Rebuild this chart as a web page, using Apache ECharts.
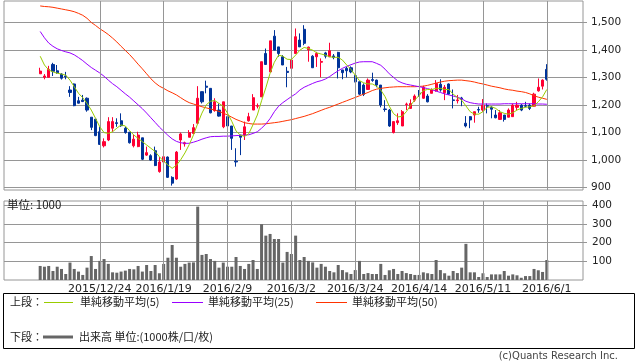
<!DOCTYPE html>
<html><head><meta charset="utf-8">
<script src="https://cdn.jsdelivr.net/npm/echarts@6/dist/echarts.min.js"></script>
<style>html,body{margin:0;padding:0;background:#fff}#c{width:638px;height:362px}</style>
</head><body><div id="c"></div>
<script>
const dates = ['2015/12/3','2015/12/4','2015/12/7','2015/12/8','2015/12/9','2015/12/10','2015/12/11','2015/12/14','2015/12/15','2015/12/16','2015/12/17','2015/12/18','2015/12/21','2015/12/22','2015/12/24','2015/12/25','2015/12/28','2015/12/29','2015/12/30',
'2016/1/4','2016/1/5','2016/1/6','2016/1/7','2016/1/8','2016/1/12','2016/1/13','2016/1/14','2016/1/15','2016/1/18','2016/1/19','2016/1/20','2016/1/21','2016/1/22','2016/1/25','2016/1/26','2016/1/27','2016/1/28','2016/1/29',
'2016/2/1','2016/2/2','2016/2/3','2016/2/4','2016/2/5','2016/2/8','2016/2/9','2016/2/10','2016/2/12','2016/2/15','2016/2/16','2016/2/17','2016/2/18','2016/2/19','2016/2/22','2016/2/23','2016/2/24','2016/2/25','2016/2/26','2016/2/29',
'2016/3/1','2016/3/2','2016/3/3','2016/3/4','2016/3/7','2016/3/8','2016/3/9','2016/3/10','2016/3/11','2016/3/14','2016/3/15','2016/3/16','2016/3/17','2016/3/18','2016/3/22','2016/3/23','2016/3/24','2016/3/25','2016/3/28','2016/3/29','2016/3/30','2016/3/31',
'2016/4/1','2016/4/4','2016/4/5','2016/4/6','2016/4/7','2016/4/8','2016/4/11','2016/4/12','2016/4/13','2016/4/14','2016/4/15','2016/4/18','2016/4/19','2016/4/20','2016/4/21','2016/4/22','2016/4/25','2016/4/26','2016/4/27','2016/4/28',
'2016/5/2','2016/5/6','2016/5/9','2016/5/10','2016/5/11','2016/5/12','2016/5/13','2016/5/16','2016/5/17','2016/5/18','2016/5/19','2016/5/20','2016/5/23','2016/5/24','2016/5/25','2016/5/26','2016/5/27','2016/5/30','2016/5/31','2016/6/1'];

const open = [1313,1300,1300,1347,1324,1312,1305,1254,1276,1215, 1217,1224,1155,1148,1102,1051,1072,1115,1135,1142,
1115,1100,1051,1048,1080,1017,1015,1033,957,992, 1010,936,930,1072,1058,1082,1096,1133,1248,1268,
1260,1179,1181,1120,1157,1123,995,1090,1090,1142, 1181,1195,1229,1387,1320,1450,1411,1375,1322,1333,
1387,1436,1475,1400,1377,1375,1355,1389,1375,1378, 1391,1327,1333,1335,1306,1284,1272,1256,1292,1290,
1272,1185,1181,1099,1135,1123,1201,1187,1217,1243, 1224,1232,1242,1251,1275,1244,1276,1218,1215,1225,
1133,1157,1163,1183,1181,1197,1191,1163,1147,1163, 1155,1157,1191,1199,1197,1199,1195,1251,1268,1329];
const close = [1323,1305,1329,1322,1317,1297,1302,1245,1197,1206, 1212,1181,1118,1088,1056,1066,1139,1139,1132,1124,
1099,1062,1075,1090,1002,1026,999,979,992,1011, 936,915,1028,1094,1062,1099,1117,1224,1211,1264,
1171,1211,1159,1211,1123,1078,992,1082,1120,1157, 1226,1197,1357,1347,1433,1399,1387,1345,1318,1363,
1448,1411,1424,1410,1335,1387,1358,1377,1397,1372, 1335,1317,1324,1320,1284,1239,1238,1290,1289,1272,
1199,1183,1123,1139,1142,1175,1203,1205,1232,1240, 1264,1211,1254,1278,1254,1264,1239,1216,1218,1222,
1123,1145,1175,1181,1199,1195,1184,1153,1171,1147, 1181,1199,1199,1181,1195,1187,1239,1264,1290,1293];
const low = [1313,1293,1300,1305,1313,1292,1293,1229,1195,1205, 1210,1175,1108,1086,1054,1045,1068,1102,1120,1120,
1095,1059,1045,1046,999,1014,996,977,953,969, 934,906,927,1036,1048,1082,1096,1130,1205,1242,
1169,1175,1157,1115,1120,1036,975,1017,1072,1139, 1181,1187,1229,1345,1320,1399,1375,1345,1264,1333,
1387,1411,1417,1357,1335,1338,1300,1369,1375,1366, 1296,1293,1300,1315,1282,1236,1232,1254,1284,1264,
1191,1175,1120,1096,1127,1123,1181,1187,1211,1229, 1222,1209,1242,1248,1248,1217,1236,1187,1205,1195,
1118,1115,1135,1171,1175,1169,1151,1151,1145,1139, 1155,1157,1181,1177,1191,1181,1193,1248,1256,1288];
const high = [1335,1312,1342,1353,1345,1315,1320,1268,1278,1229, 1236,1227,1155,1148,1120,1078,1155,1155,1151,1169,
1120,1102,1090,1102,1080,1048,1020,1048,1010,1026, 1012,940,1032,1099,1066,1108,1130,1268,1248,1288,
1260,1224,1205,1211,1163,1123,1042,1090,1139,1171, 1239,1205,1357,1405,1433,1472,1411,1381,1338,1424,
1478,1460,1490,1412,1381,1393,1369,1393,1426,1385, 1393,1327,1338,1340,1308,1284,1278,1296,1317,1292,
1272,1217,1185,1139,1169,1181,1208,1220,1238,1254, 1270,1239,1260,1290,1293,1272,1278,1256,1236,1229,
1159,1159,1175,1193,1221,1205,1195,1181,1181,1163, 1187,1205,1211,1203,1211,1205,1244,1296,1293,1348];
const volume = [75,71,75,48,71,59,32,93,59,45, 27,66,128,59,102,112,86,41,39,45,
50,59,57,75,45,80,48,80,36,86, 119,187,119,71,86,93,94,392,134,139,
112,102,66,93,71,71,123,75,59,86, 107,59,298,237,246,219,219,93,150,139,
237,107,123,102,94,66,86,71,48,41, 80,53,41,32,53,102,32,37,32,32,
86,27,52,59,32,48,37,32,27,27, 41,36,32,107,53,36,23,48,37,66,
193,41,41,16,36,16,30,30,30,48, 23,30,25,12,21,21,59,52,43,107];
const ma5 = [1377,1345,1327,1320,1315,1312,1308,1290,1266,1242, 1226,1205,1181,1151,1120,1099,1096,1102,1115,1127,
1123,1106,1090,1078,1066,1054,1042,1030,1011,995, 981,969,980,1000,1025,1055,1090,1132,1170,1200,
1213,1216,1205,1195,1170,1140,1105,1090,1085,1095, 1128,1163,1215,1262,1315,1355,1381,1377,1366,1365,
1381,1399,1409,1405,1399,1389,1385,1381,1375,1373, 1373,1363,1345,1329,1308,1288,1280,1276,1276,1268,
1254,1230,1195,1168,1156,1158,1175,1198,1218,1234, 1252,1256,1256,1260,1260,1256,1256,1239,1227,1217,
1196,1175,1166,1166,1175,1191,1193,1187,1175,1169, 1166,1171,1181,1187,1191,1193,1196,1211,1229,1256];
const ma25 = [1467,1444,1425,1413,1404,1398,1393,1389,1382,1372, 1361,1348,1336,1326,1316,1304,1290,1277,1266,1253,
1240,1228,1214,1200,1186,1170,1153,1136,1119,1104, 1089,1076,1067,1062,1060,1060,1064,1069,1075,1080,
1084,1085,1085,1086,1086,1087,1088,1089,1090,1091, 1096,1102,1115,1130,1150,1175,1195,1208,1219,1230,
1240,1254,1264,1271,1278,1284,1288,1294,1303,1314, 1324,1333,1340,1346,1352,1356,1357,1357,1357,1351,
1344,1330,1313,1300,1287,1280,1275,1272,1269,1266, 1263,1259,1255,1250,1245,1240,1236,1232,1228,1222,
1213,1208,1205,1203,1203,1203,1203,1203,1203,1204, 1204,1204,1204,1204,1204,1204,1204,1203,1203,1202];
const ma50 = [1560,1558,1557,1555,1552,1549,1546,1543,1539,1533, 1526,1515,1500,1489,1477,1467,1456,1443,1429,1413,
1398,1383,1366,1348,1331,1313,1295,1280,1268,1260, 1251,1244,1236,1226,1216,1208,1203,1198,1193,1189,
1185,1181,1176,1170,1163,1155,1147,1141,1135,1132, 1130,1130,1130,1131,1133,1135,1137,1140,1143,1146,
1150,1154,1158,1163,1168,1174,1180,1186,1191,1197, 1203,1209,1215,1221,1227,1233,1239,1245,1252,1257,
1260,1262,1264,1265,1266,1266,1266,1266,1266,1267, 1268,1271,1275,1279,1283,1286,1288,1289,1290,1290,
1288,1286,1283,1279,1276,1272,1268,1265,1262,1258, 1255,1253,1250,1248,1245,1240,1233,1228,1224,1220];
const tickLabels = ['2015/12/24','2016/1/19','2016/2/9','2016/3/2','2016/3/24','2016/4/14','2016/5/11','2016/6/1'];
const priceTicks = [900,1000,1100,1200,1300,1400,1500];
const volumeTicks = [100,200,300,400];

const PAD = 8;
const cats = [];
for (let k = 0; k < PAD; k++) cats.push('L' + k);
dates.forEach(d => cats.push(d));
for (let k = 0; k < PAD; k++) cats.push('R' + k);
const padArr = Array(PAD).fill('-');
const padCandle = Array(PAD).fill(['-','-','-','-']);
const candleData = padCandle.concat(dates.map((d, i) => [open[i], close[i], low[i], high[i]])).concat(padCandle);
const withPad = a => padArr.concat(a).concat(padArr);

const GRID = '#969696';
const font = 'DejaVu Sans';
const cjk = '"Noto Sans CJK JP"';
const vLines = tickLabels.map(t => ({xAxis: t}));

const chart = echarts.init(document.getElementById('c'), null, {renderer: 'canvas'});
const xBase = {
  type: 'category', data: cats, boundaryGap: true,
  axisLine: {show: false}, axisTick: {show: false}, splitLine: {show: false}
};
chart.setOption({
  animation: false,
  backgroundColor: '#fff',
  grid: [
    {left: 4, right: 55, top: 1, height: 189, show: true, borderColor: GRID, borderWidth: 1},
    {left: 4, right: 55, top: 201, height: 79, show: true, borderColor: GRID, borderWidth: 1}
  ],
  xAxis: [
    Object.assign({}, xBase, {gridIndex: 0, axisLabel: {show: false}}),
    Object.assign({}, xBase, {gridIndex: 1, axisLabel: {
      show: true, interval: (idx, val) => tickLabels.indexOf(val) >= 0,
      margin: 4, fontFamily: font, fontSize: 11, color: '#222'
    }})
  ],
  yAxis: [
    {type: 'value', gridIndex: 0, position: 'right', min: 890, max: 1578, scale: true,
     axisLine: {show: false},
     axisTick: {show: true, length: 4, lineStyle: {color: GRID}, customValues: priceTicks},
     axisLabel: {customValues: priceTicks, margin: 8, fontFamily: font, fontSize: 10.5, color: '#222',
       formatter: v => v.toLocaleString('en-US')},
     splitLine: {show: true, lineStyle: {color: GRID, width: 1}}},
    {type: 'value', gridIndex: 1, position: 'right', min: 0, max: 422,
     axisLine: {show: false},
     axisTick: {show: true, length: 4, lineStyle: {color: GRID}, customValues: volumeTicks},
     axisLabel: {customValues: volumeTicks, margin: 9, fontFamily: font, fontSize: 10.5, color: '#222'},
     splitLine: {show: true, lineStyle: {color: GRID, width: 1}}}
  ],
  series: [
    {type: 'line', xAxisIndex: 0, yAxisIndex: 0, data: withPad(Array(dates.length).fill('-')), z: 1, silent: true,
     markLine: {silent: true, symbol: 'none', label: {show: false}, animation: false,
       lineStyle: {color: GRID, type: 'solid', width: 1}, data: vLines}},
    {type: 'line', xAxisIndex: 1, yAxisIndex: 1, data: withPad(Array(dates.length).fill('-')), z: 1, silent: true,
     markLine: {silent: true, symbol: 'none', label: {show: false}, animation: false,
       lineStyle: {color: GRID, type: 'solid', width: 1}, data: vLines}},
    {type: 'candlestick', xAxisIndex: 0, yAxisIndex: 0, data: candleData, barWidth: 2.6, z: 3,
     itemStyle: {color: '#ff0033', color0: '#003399', borderColor: '#ff0033', borderColor0: '#003399', borderWidth: 1}},
    {type: 'line', name: 'ma50', xAxisIndex: 0, yAxisIndex: 0, data: withPad(ma50), symbol: 'none', z: 4,
     lineStyle: {color: '#ff3300', width: 1}},
    {type: 'line', name: 'ma25', xAxisIndex: 0, yAxisIndex: 0, data: withPad(ma25), symbol: 'none', z: 4,
     lineStyle: {color: '#9900ff', width: 1}},
    {type: 'line', name: 'ma5', xAxisIndex: 0, yAxisIndex: 0, data: withPad(ma5), symbol: 'none', z: 5,
     lineStyle: {color: '#99cc00', width: 1}},
    {type: 'bar', xAxisIndex: 1, yAxisIndex: 1, data: withPad(volume), barWidth: 3, z: 3,
     itemStyle: {color: '#666666'}}
  ],
  graphic: [
    {type: 'text', left: 7, top: 199, z: 10, style: {text: '単位: 1000', font: '11.5px ' + cjk, fill: '#222'}},
    {type: 'rect', z: 10, shape: {x: 3.5, y: 293.5, width: 631, height: 55}, style: {fill: 'none', stroke: '#000', lineWidth: 1}},
    {type: 'text', z: 10, x: 10, y: 302, style: {text: '上段：', font: '11px ' + cjk, fill: '#222', verticalAlign: 'middle'}},
    {type: 'line', z: 10, shape: {x1: 44, y1: 302.5, x2: 73, y2: 302.5}, style: {stroke: '#99cc00', lineWidth: 1}},
    {type: 'text', z: 10, x: 80, y: 302, style: {text: '単純移動平均(5)', font: '11px ' + cjk, fill: '#222', verticalAlign: 'middle'}},
    {type: 'line', z: 10, shape: {x1: 172, y1: 302.5, x2: 203, y2: 302.5}, style: {stroke: '#9900ff', lineWidth: 1}},
    {type: 'text', z: 10, x: 208, y: 302, style: {text: '単純移動平均(25)', font: '11px ' + cjk, fill: '#222', verticalAlign: 'middle'}},
    {type: 'line', z: 10, shape: {x1: 316, y1: 302.5, x2: 347, y2: 302.5}, style: {stroke: '#ff3300', lineWidth: 1}},
    {type: 'text', z: 10, x: 352, y: 302, style: {text: '単純移動平均(50)', font: '11px ' + cjk, fill: '#222', verticalAlign: 'middle'}},
    {type: 'text', z: 10, x: 10, y: 337, style: {text: '下段：', font: '11px ' + cjk, fill: '#222', verticalAlign: 'middle'}},
    {type: 'line', z: 10, shape: {x1: 43, y1: 337, x2: 73, y2: 337}, style: {stroke: '#666666', lineWidth: 3}},
    {type: 'text', z: 10, x: 79, y: 337, style: {text: '出来高 単位:(1000株/口/枚)', font: '11px ' + cjk, fill: '#222', verticalAlign: 'middle'}},
    {type: 'text', z: 10, x: 618, y: 356, style: {text: '(c)Quants Research Inc.', font: '10px ' + font, fill: '#444', align: 'right', verticalAlign: 'middle'}}
  ]
});
</script></body></html>
